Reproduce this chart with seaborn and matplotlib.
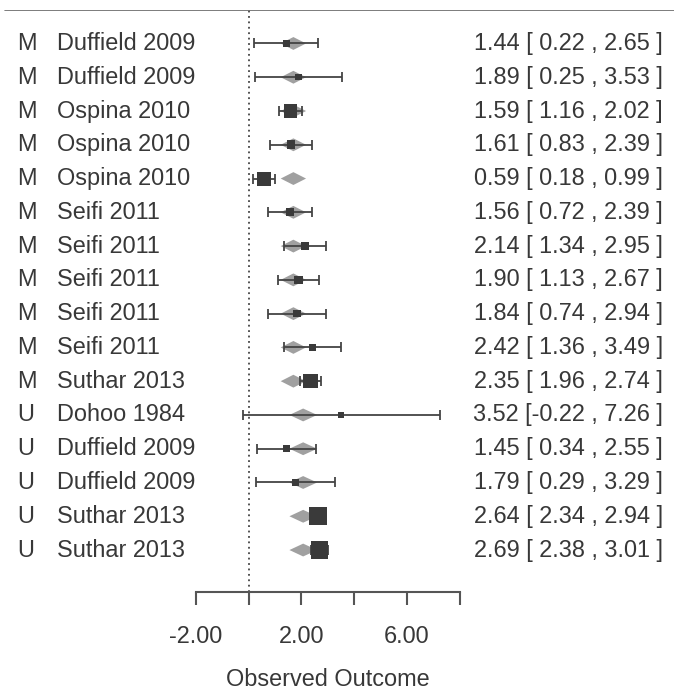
import numpy as np
import pandas as pd
import seaborn as sns
import matplotlib.pyplot as plt
import matplotlib.transforms as mtrans

# data
moderator = ['M', 'M', 'M', 'M', 'M', 'M', 'M', 'M', 'M', 'M', 'M',
             'U', 'U', 'U', 'U', 'U']
studies = ['Duffield 2009', 'Duffield 2009', 'Ospina 2010', 'Ospina 2010',
           'Ospina 2010', 'Seifi 2011', 'Seifi 2011', 'Seifi 2011',
           'Seifi 2011', 'Seifi 2011', 'Suthar 2013', 'Dohoo 1984',
           'Duffield 2009', 'Duffield 2009', 'Suthar 2013', 'Suthar 2013']
estimate = [1.44, 1.89, 1.59, 1.61, 0.59, 1.56, 2.14, 1.90, 1.84, 2.42,
            2.35, 3.52, 1.45, 1.79, 2.64, 2.69]
ci_low = [0.22, 0.25, 1.16, 0.83, 0.18, 0.72, 1.34, 1.13, 0.74, 1.36,
          1.96, -0.22, 0.34, 0.29, 2.34, 2.38]
ci_high = [2.65, 3.53, 2.02, 2.39, 0.99, 2.39, 2.95, 2.67, 2.94, 3.49,
           2.74, 7.26, 2.55, 3.29, 2.94, 3.01]
# fitted values per moderator level (grey diamonds)
fit_est = {'M': 1.70, 'U': 2.07}
fit_low = {'M': 1.22, 'U': 1.55}
fit_high = {'M': 2.18, 'U': 2.60}
tau2 = 0.02

ticks = [-2, 0, 2, 4, 6, 8]
tick_labels = ['-2.00', '', '2.00', '', '6.00', '']

k = len(studies)
df = pd.DataFrame({'mod': moderator, 'study': studies, 'est': estimate,
                   'lo': ci_low, 'hi': ci_high})
df['row'] = np.arange(k, 0, -1)
# metafor style point sizes from weights
vi = ((df['hi'] - df['lo']) / 3.92) ** 2
wi = 1 / (vi + tau2)
psize = (wi - wi.min()) / (wi.max() - wi.min()) + 0.5
df['area'] = psize ** 2

sns.set_theme(style='white')
plt.rcParams['font.family'] = ['Liberation Sans', 'DejaVu Sans']
txt = '#383838'
line = '#444444'
fs = 16.9

W, H = 674, 690
fig = plt.figure(figsize=(W / 100, H / 100), dpi=100)
x0, unit = 248.5, 26.4
ax_bot, ax_top = 592, 9.7
ax = fig.add_axes([0, (H - ax_bot) / H, 1, (ax_bot - ax_top) / H])
ax.set_xlim(-x0 / unit, (W - x0) / unit)
ylo = 1 - (ax_bot - 550) / 33.8
ax.set_ylim(ylo, k + 1)

# fitted diamonds
h = 0.19
for _, r in df.iterrows():
    m = r['mod']
    ax.fill([fit_low[m], fit_est[m], fit_high[m], fit_est[m]],
            [r['row'], r['row'] + h, r['row'], r['row'] - h],
            color='#a0a0a0', lw=0, zorder=2)

ax.errorbar(df['est'], df['row'],
            xerr=[df['est'] - df['lo'], df['hi'] - df['est']],
            fmt='none', ecolor=line, elinewidth=1.3, capsize=3.8,
            capthick=1.3, zorder=3)

s_unit = (11.8 * 0.72) ** 2
sns.scatterplot(data=df, x='est', y='row', size='area',
                sizes=(s_unit * df['area'].min(), s_unit * df['area'].max()),
                marker='s', color='#3a3a3a', linewidth=0, legend=False,
                ax=ax, zorder=4)

ax.vlines(0, ylo, k + 1, colors=line, linestyles=(0, (1, 2)), lw=1.3, zorder=1)
ax.axhline(k + 1, xmin=5 / W, xmax=1, color='#666666', lw=1.2)

for s in ['top', 'left', 'right']:
    ax.spines[s].set_visible(False)
ax.spines['bottom'].set_bounds(-2, 8)
ax.spines['bottom'].set_color('#555555')
ax.spines['bottom'].set_linewidth(1.5)
ax.set_xticks(ticks)
ax.set_xticklabels(tick_labels)
ax.tick_params(axis='x', direction='out', length=9.4, width=1.5,
               color='#555555', labelsize=fs, labelcolor=txt, pad=14.5,
               bottom=True)
ax.set_yticks([])
ax.set_xlabel('')
ax.set_ylabel('')

trans = mtrans.blended_transform_factory(ax.transAxes, ax.transData)
for _, r in df.iterrows():
    ax.text(17 / W, r['row'], r['mod'], transform=trans, ha='left',
            va='center', fontsize=fs, color=txt)
    ax.text(57 / W, r['row'], r['study'], transform=trans, ha='left',
            va='center', fontsize=fs, color=txt)
    ax.text(663 / W, r['row'],
            f"{r['est']:.2f} [{r['lo']:5.2f} , {r['hi']:.2f} ]",
            transform=trans, ha='right', va='center', fontsize=fs,
            color=txt)

fig.text((x0 + 3 * unit) / W, (H - 680) / H, 'Observed Outcome',
         ha='center', va='center', fontsize=fs, color=txt)

fig.savefig('out.png', dpi=100)
